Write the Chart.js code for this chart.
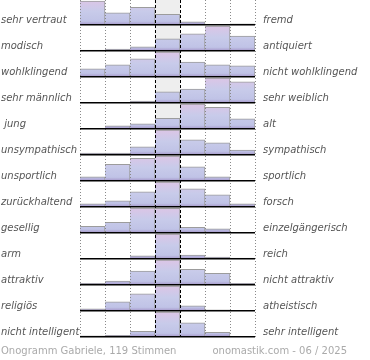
<!DOCTYPE html>
<html>
<head>
<meta charset="utf-8">
<script src="https://cdn.jsdelivr.net/npm/chart.js@4"></script>
<style>
  html,body{margin:0;padding:0;background:#fff;}
  #c{display:block;}
</style>
</head>
<body>
<canvas id="c" width="370" height="360"></canvas>
<script>
// ---- data ----
const scalePoints = ['1','2','3','4','5','6','7'];
const leftLabels = ['sehr vertraut','modisch','wohlklingend','sehr männlich',' jung','unsympathisch','unsportlich','zurückhaltend','gesellig','arm','attraktiv','religiös','nicht intelligent'];
const rightLabels = ['fremd','antiquiert','nicht wohlklingend','sehr weiblich','alt','sympathisch','sportlich','forsch','einzelgängerisch','reich','nicht attraktiv','atheistisch','sehr intelligent'];

// relative frequency per scale point (0-100, 100 = most frequent answer)
const vertraut     = [96, 49, 71, 43, 13, 0, 5];
const modisch      = [4, 8, 17, 49, 69, 100, 60];
const wohlklingend = [33, 49, 73, 100, 60, 49, 45];
const maennlich    = [0, 0, 8, 45, 56, 100, 85];
const jung         = [0, 13, 21, 43, 100, 87, 41];
const unsympathisch= [8, 8, 33, 100, 61, 49, 20];
const unsportlich  = [17, 67, 91, 100, 57, 17, 0];
const zurueckhaltend=[13, 25, 61, 100, 73, 49, 13];
const gesellig     = [27, 43, 100, 99, 23, 17, 0];
const arm          = [0, 0, 13, 100, 16, 8, 4];
const attraktiv    = [7, 16, 56, 100, 63, 47, 7];
const religioes    = [9, 37, 69, 100, 21, 5, 0];
const nichtIntelligent = [5, 7, 23, 100, 57, 19, 0];

const rows = [vertraut, modisch, wohlklingend, maennlich, jung, unsympathisch, unsportlich,
              zurueckhaltend, gesellig, arm, attraktiv, religioes, nichtIntelligent];

const footerLeft = 'Onogramm Gabriele, 119 Stimmen';
const footerRight = 'onomastik.com - 06 / 2025';

// ---- layout in value units ----
const BAR_MAX = 100;      // height of a full bar
const ROW_STEP = 104;     // distance between baselines
const Y_MAX = 1348;
const baseOf = i => BAR_MAX + ROW_STEP * i;
const baselineTicks = () => rows.map((_, i) => ({ value: baseOf(i) }));

function rowGradient(c, rowIndex) {
  const chart = c.chart;
  const y = chart.scales && chart.scales.y;
  if (!y || !chart.chartArea) return '#c6cae9';
  const base = baseOf(rowIndex);
  const top = y.getPixelForValue(base - BAR_MAX);
  const bot = y.getPixelForValue(base);
  const g = chart.ctx.createLinearGradient(0, top, 0, bot);
  g.addColorStop(0, '#dcc5e6');
  g.addColorStop(0.45, '#c8cbea');
  g.addColorStop(0.85, '#c0c3e6');
  g.addColorStop(1, '#a494c8');
  return g;
}

const datasets = rows.map((vals, i) => ({
  data: vals.map(v => [baseOf(i) - v, baseOf(i)]),
  backgroundColor: c => rowGradient(c, i),
  borderColor: '#9c9c9c',
  borderWidth: { top: 1, right: 1, bottom: 0, left: 0 },
  borderSkipped: false,
  grouped: false,
  categoryPercentage: 1,
  barPercentage: 1,
  order: 0
}));
// neutral middle column band
datasets.push({
  data: scalePoints.map((_, k) => k === 3 ? [0, Y_MAX] : null),
  backgroundColor: '#eeeeee',
  borderWidth: 0,
  grouped: false,
  categoryPercentage: 1,
  barPercentage: 1,
  order: 1
});

const footerPlugin = {
  id: 'footer',
  afterDraw(chart) {
    const ctx = chart.ctx;
    ctx.save();
    ctx.font = '10px "DejaVu Sans"';
    ctx.fillStyle = '#aaaaaa';
    ctx.textBaseline = 'middle';
    ctx.textAlign = 'left';
    ctx.fillText(footerLeft, 1, 351);
    ctx.textAlign = 'right';
    ctx.fillText(footerRight, 347, 351);
    ctx.restore();
  }
};

Chart.defaults.font.family = '"DejaVu Sans", sans-serif';

const noPad = s => { s.paddingTop = 0; s.paddingBottom = 0; };

new Chart(document.getElementById('c'), {
  type: 'bar',
  data: { labels: scalePoints, datasets },
  plugins: [footerPlugin],
  options: {
    responsive: false,
    animation: false,
    layout: { padding: { left: 1, right: 0, top: 0, bottom: 23 } },
    plugins: { legend: { display: false }, tooltip: { enabled: false }, title: { display: false } },
    scales: {
      x: {
        type: 'category',
        position: 'bottom',
        offset: true,
        ticks: { display: false },
        grid: {
          offset: true,
          drawTicks: false,
          z: 1,
          color: c => (c.index === 3 || c.index === 4) ? '#000000' : '#8a8a8a',
          lineWidth: 1
        },
        border: {
          display: false,
          dash: c => (c.index === 3 || c.index === 4) ? [3, 2] : [1, 2]
        },
        afterFit: s => { s.height = 0; s.paddingLeft = 0; s.paddingRight = 0; }
      },
      y: {
        type: 'linear',
        position: 'left',
        reverse: true,
        min: 0,
        max: Y_MAX,
        afterBuildTicks: s => { s.ticks = baselineTicks(); },
        afterFit: s => { s.width = 79; noPad(s); },
        ticks: {
          autoSkip: false,
          crossAlign: 'far',
          labelOffset: -5,
          padding: 2,
          color: '#555555',
          font: { size: 10, style: 'italic' },
          callback: (v, i) => leftLabels[i]
        },
        grid: { drawTicks: false, color: '#000000', lineWidth: 1.5, z: 1 },
        border: { display: false }
      },
      y2: {
        type: 'linear',
        position: 'right',
        reverse: true,
        min: 0,
        max: Y_MAX,
        afterBuildTicks: s => { s.ticks = baselineTicks(); },
        afterFit: s => { s.width = 115; noPad(s); },
        ticks: {
          autoSkip: false,
          labelOffset: -5,
          padding: 8,
          color: '#555555',
          font: { size: 10, style: 'italic' },
          callback: (v, i) => rightLabels[i]
        },
        grid: { display: false, drawTicks: false },
        border: { display: false }
      }
    }
  }
});
</script>
</body>
</html>
